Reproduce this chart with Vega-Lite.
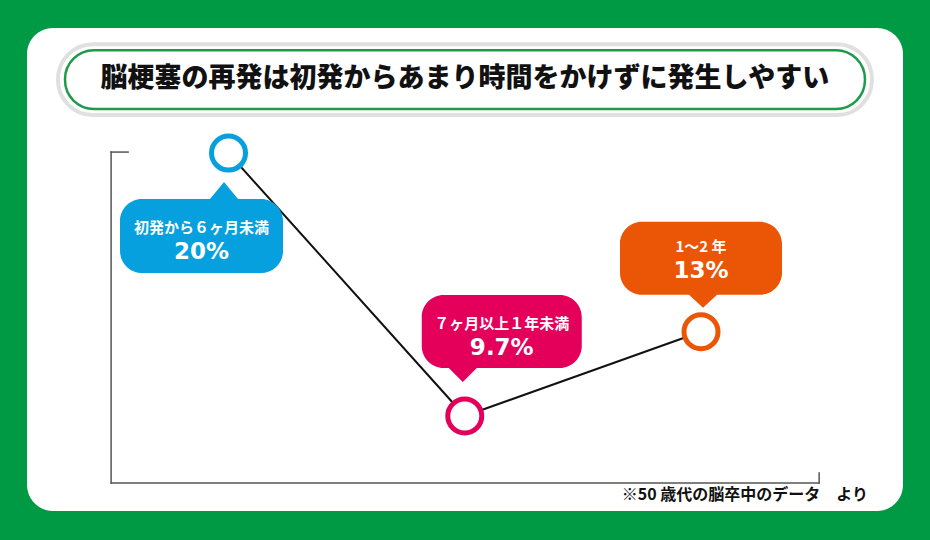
{
  "$schema": "https://vega.github.io/schema/vega-lite/v6.json",
  "width": 876,
  "height": 483,
  "autosize": {"type": "none"},
  "padding": {"left": 27, "top": 28, "right": 27, "bottom": 29},
  "background": "#009944",
  "config": {
    "view": {"fill": "#ffffff", "stroke": null, "cornerRadius": 26},
    "font": "Noto Sans CJK JP"
  },
  "datasets": {
    "rates": [
      {"order": 1, "period": "初発から６ヶ月未満", "rate": 20, "label": "20%"},
      {"order": 2, "period": "７ヶ月以上１年未満", "rate": 9.7, "label": "9.7%"},
      {"order": 3, "period": "1～2 年", "rate": 13, "label": "13%"}
    ],
    "frame": [{"item": "frame"}]
  },
  "layer": [
    {
      "data": {"name": "frame"},
      "mark": {"type": "rect", "fill": "#ffffff", "stroke": "#e0e0e0", "strokeWidth": 4, "cornerRadius": 35},
      "encoding": {
        "x": {"datum": 0.2782, "type": "quantitative", "scale": {"domain": [0.147, 3.855], "nice": false, "zero": false}, "axis": null},
        "x2": {"datum": 3.7237},
        "y": {"datum": 24.268, "type": "quantitative", "scale": {"domain": [5.98, 24.9], "nice": false, "zero": false}, "axis": null},
        "y2": {"datum": 21.488}
      }
    },
    {
      "data": {"name": "frame"},
      "mark": {"type": "rect", "fill": "#ffffff", "stroke": "#1e9a4b", "strokeWidth": 2.5, "cornerRadius": 29},
      "encoding": {
        "x": {"datum": 0.3079, "type": "quantitative"},
        "x2": {"datum": 3.694},
        "y": {"datum": 24.033, "type": "quantitative"},
        "y2": {"datum": 21.723}
      }
    },
    {
      "data": {"name": "frame"},
      "mark": {"type": "text", "text": "脳梗塞の再発は初発からあまり時間をかけずに発生しやすい", "fontSize": 27, "fontWeight": 900, "color": "#111111", "align": "center", "baseline": "middle"},
      "encoding": {
        "x": {"datum": 2.0, "type": "quantitative"},
        "y": {"datum": 22.898, "type": "quantitative"}
      }
    },
    {
      "data": {"name": "frame"},
      "mark": {"type": "text", "text": "※50 歳代の脳卒中のデータ　より", "fontSize": 16, "fontWeight": "bold", "color": "#111111", "align": "right", "baseline": "middle"},
      "encoding": {
        "x": {"datum": 3.707, "type": "quantitative"},
        "y": {"datum": 6.606, "type": "quantitative"}
      }
    },
    {
      "data": {"name": "frame"},
      "mark": {"type": "rule", "color": "#555555", "strokeWidth": 1.5, "strokeCap": "square"},
      "encoding": {
        "x": {"datum": 0.503, "type": "quantitative"},
        "y": {"datum": 7.076, "type": "quantitative"},
        "y2": {"datum": 20.04}
      }
    },
    {
      "data": {"name": "frame"},
      "mark": {"type": "rule", "color": "#555555", "strokeWidth": 1.5, "strokeCap": "square"},
      "encoding": {
        "x": {"datum": 0.503, "type": "quantitative"},
        "x2": {"datum": 0.575},
        "y": {"datum": 20.04, "type": "quantitative"}
      }
    },
    {
      "data": {"name": "frame"},
      "mark": {"type": "rule", "color": "#555555", "strokeWidth": 1.5, "strokeCap": "square"},
      "encoding": {
        "x": {"datum": 0.503, "type": "quantitative"},
        "x2": {"datum": 3.5},
        "y": {"datum": 7.076, "type": "quantitative"}
      }
    },
    {
      "data": {"name": "frame"},
      "mark": {"type": "rule", "color": "#555555", "strokeWidth": 1.5, "strokeCap": "square"},
      "encoding": {
        "x": {"datum": 3.5, "type": "quantitative"},
        "y": {"datum": 7.076, "type": "quantitative"},
        "y2": {"datum": 7.468}
      }
    },
    {
      "data": {"name": "rates"},
      "encoding": {
        "x": {"field": "order", "type": "quantitative"},
        "y": {"field": "rate", "type": "quantitative"}
      },
      "layer": [
        {
          "mark": {"type": "line", "color": "#111111", "strokeWidth": 2}
        },
        {
          "mark": {"type": "point", "shape": "circle", "size": 1156, "fill": "#ffffff", "strokeWidth": 5, "opacity": 1},
          "encoding": {
            "stroke": {"field": "period", "type": "nominal", "legend": null,
              "scale": {"domain": ["初発から６ヶ月未満", "７ヶ月以上１年未満", "1～2 年"], "range": ["#06a0de", "#e4005a", "#ea5506"]}}
          }
        },
        {
          "mark": {"type": "point", "filled": true, "size": 4, "opacity": 1, "strokeWidth": 0},
          "encoding": {
            "shape": {"field": "period", "type": "nominal", "legend": null,
              "scale": {"domain": ["初発から６ヶ月未満", "７ヶ月以上１年未満", "1～2 年"], "range": [
                "M -86.5 46 L -18.5 46 L -4.5 29 L 9.5 46 L 32.5 46 A 22 22 0 0 1 54.5 68 L 54.5 98 A 22 22 0 0 1 32.5 120 L -86.5 120 A 22 22 0 0 1 -108.5 98 L -108.5 68 A 22 22 0 0 1 -86.5 46 Z",
                "M -21 -121 L 95 -121 A 22 22 0 0 1 117 -99 L 117 -70 A 22 22 0 0 1 95 -48 L 12 -48 L -2 -34 L -16 -48 L -21 -48 A 22 22 0 0 1 -43 -70 L -43 -99 A 22 22 0 0 1 -21 -121 Z",
                "M -59 -110 L 59 -110 A 22 22 0 0 1 81 -88 L 81 -59 A 22 22 0 0 1 59 -37 L 16 -37 L 2 -24 L -12 -37 L -59 -37 A 22 22 0 0 1 -81 -59 L -81 -88 A 22 22 0 0 1 -59 -110 Z"
              ]}},
            "fill": {"field": "period", "type": "nominal", "legend": null,
              "scale": {"domain": ["初発から６ヶ月未満", "７ヶ月以上１年未満", "1～2 年"], "range": ["#06a0de", "#e4005a", "#ea5506"]}}
          }
        },
        {
          "transform": [{"filter": "datum.order == 1"}],
          "mark": {"type": "text", "color": "#ffffff", "fontSize": 15, "fontWeight": "bold", "align": "center", "baseline": "middle", "dx": -27, "dy": 75},
          "encoding": {"text": {"field": "period"}}
        },
        {
          "transform": [{"filter": "datum.order == 1"}],
          "mark": {"type": "text", "color": "#ffffff", "font": "DejaVu Sans", "fontSize": 23, "fontWeight": "bold", "align": "center", "baseline": "middle", "dx": -27, "dy": 99},
          "encoding": {"text": {"field": "label"}}
        },
        {
          "transform": [{"filter": "datum.order == 2"}],
          "mark": {"type": "text", "color": "#ffffff", "fontSize": 15, "fontWeight": "bold", "align": "center", "baseline": "middle", "dx": 37, "dy": -92},
          "encoding": {"text": {"field": "period"}}
        },
        {
          "transform": [{"filter": "datum.order == 2"}],
          "mark": {"type": "text", "color": "#ffffff", "font": "DejaVu Sans", "fontSize": 23, "fontWeight": "bold", "align": "center", "baseline": "middle", "dx": 37, "dy": -68},
          "encoding": {"text": {"field": "label"}}
        },
        {
          "transform": [{"filter": "datum.order == 3"}],
          "mark": {"type": "text", "color": "#ffffff", "fontSize": 15, "fontWeight": "bold", "align": "center", "baseline": "middle", "dx": 0, "dy": -85},
          "encoding": {"text": {"field": "period"}}
        },
        {
          "transform": [{"filter": "datum.order == 3"}],
          "mark": {"type": "text", "color": "#ffffff", "font": "DejaVu Sans", "fontSize": 23, "fontWeight": "bold", "align": "center", "baseline": "middle", "dx": 0, "dy": -61},
          "encoding": {"text": {"field": "label"}}
        }
      ]
    }
  ]
}
